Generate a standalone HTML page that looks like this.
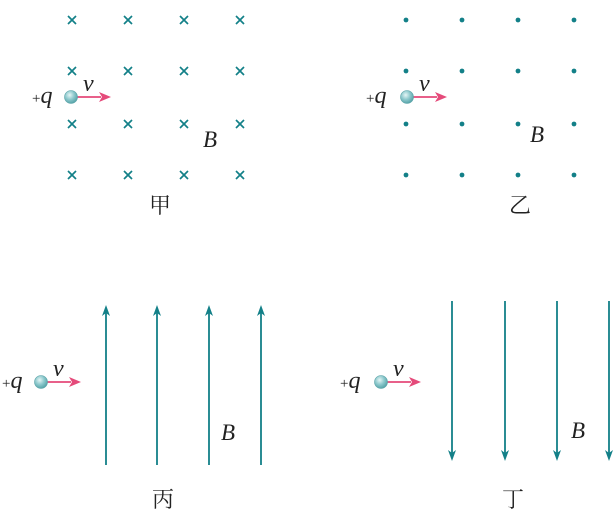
<!DOCTYPE html>
<html><head><meta charset="utf-8"><style>
html,body{margin:0;padding:0;background:#fff;width:614px;height:514px;overflow:hidden}
svg{display:block}
.it{font-family:"Liberation Serif",serif;font-style:italic;fill:#222}
.cn{font-family:"Liberation Serif","Noto Serif CJK SC",serif;fill:#222;font-size:22px}
</style></head><body>
<svg width="614" height="514" viewBox="0 0 614 514">
<defs>
<radialGradient id="ball" cx="0.4" cy="0.35" r="0.7">
<stop offset="0" stop-color="#e6f6f6"/><stop offset="0.5" stop-color="#8cc8cc"/><stop offset="1" stop-color="#4f9ea3"/>
</radialGradient>
</defs>
<g id="g"></g>
</svg>
<script>
const teal = '#138088', pink = '#e54a7a';
const colsA = [72,128,184,240], colsB = [406,462,518,574], rows = [20,71,124,175];
const colsC = [106,157,209,261], colsD = [452,505,557,609];
const g = document.getElementById('g');
const NS = 'http://www.w3.org/2000/svg';
function mk(tag, attrs, parent){const e=document.createElementNS(NS,tag);for(const k in attrs)e.setAttribute(k,attrs[k]);(parent||g).appendChild(e);return e;}
colsA.forEach(x=>rows.forEach(y=>{
  const c=mk('path',{d:`M${x-4} ${y-4}L${x+4} ${y+4}M${x+4} ${y-4}L${x-4} ${y+4}`,stroke:teal,'stroke-width':1.7});
  
  
}));
colsB.forEach(x=>rows.forEach(y=>{
  const c=mk('circle',{cx:x,cy:y,r:2.4,fill:teal});
  
  
}));
colsC.forEach(x=>{
  const l=mk('path',{d:`M${x} 465L${x} 310`,stroke:teal,'stroke-width':1.8,fill:'none'});
  
  
  const h=mk('path',{d:`M${x} 305L${x-4} 316L${x} 313L${x+4} 316Z`,fill:teal});
  
  
});
colsD.forEach(x=>{
  const l=mk('path',{d:`M${x} 301L${x} 456`,stroke:teal,'stroke-width':1.8,fill:'none'});
  
  
  const h=mk('path',{d:`M${x} 461L${x-4} 450L${x} 453L${x+4} 450Z`,fill:teal});
  
  
});
const parts=[[71,97,32,203,147],[407,97,366,530,142],[41,382,2,221,440],[381,382,340,571,438]];
parts.forEach(p=>{
  const [x,y,qx,bx,by]=p;
  const a=mk('path',{d:`M${x+5} ${y}L${x+30} ${y}`,stroke:pink,'stroke-width':1.8});
  
  
  const ah=mk('path',{d:`M${x+40} ${y}L${x+28} ${y-5}L${x+31} ${y}L${x+28} ${y+5}Z`,fill:pink});
  
  
  const b=mk('circle',{cx:x,cy:y,r:6.5,fill:'url(#ball)',stroke:'#5aa3a8','stroke-width':0.6});
  
  
  const q=mk('text',{x:qx,y:y+6,class:'it','font-size':24});
  q.innerHTML='<tspan font-style="normal" font-size="15">+</tspan>q';
  
  
  const v=mk('text',{x:x+12,y:y-6,class:'it','font-size':24});
  v.textContent='v';
  
  
  const B=mk('text',{x:bx,y:by,class:'it','font-size':23});
  B.textContent='B';
  
  
});
const caps=[[160,213,'甲'],[520,213,'乙'],[163,507,'丙'],[513,507,'丁']];
caps.forEach(c=>{
  const t=mk('text',{x:c[0],y:c[1],class:'cn','text-anchor':'middle'});
  t.textContent=c[2];
  
  
});
</script>
</body></html>
